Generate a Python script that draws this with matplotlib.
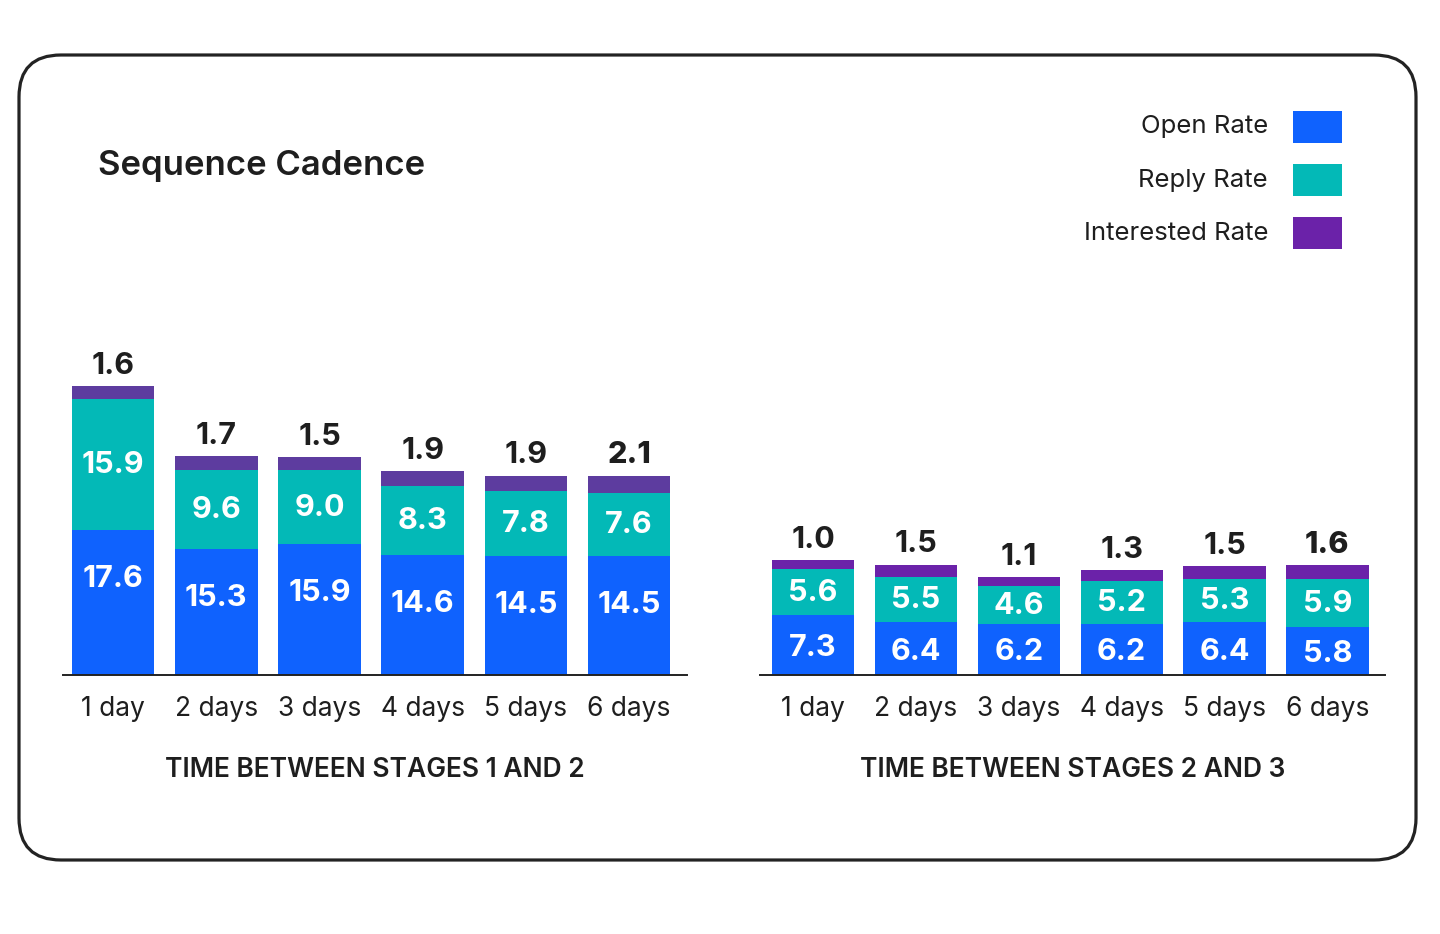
import matplotlib
matplotlib.use("Agg")
import matplotlib.pyplot as plt
from matplotlib.patches import FancyBboxPatch, Rectangle

plt.rcParams['font.family'] = ['Inter', 'DejaVu Sans']

categories = ["1 day", "2 days", "3 days", "4 days", "5 days", "6 days"]

open_12 = [17.6, 15.3, 15.9, 14.6, 14.5, 14.5]
reply_12 = [15.9, 9.6, 9.0, 8.3, 7.8, 7.6]
interested_12 = [1.6, 1.7, 1.5, 1.9, 1.9, 2.1]

open_23 = [7.3, 6.4, 6.2, 6.2, 6.4, 5.8]
reply_23 = [5.6, 5.5, 4.6, 5.2, 5.3, 5.9]
interested_23 = [1.0, 1.5, 1.1, 1.3, 1.5, 1.6]

title = "Sequence Cadence"
group_titles = ["TIME BETWEEN STAGES 1 AND 2", "TIME BETWEEN STAGES 2 AND 3"]
series_names = ["Open Rate", "Reply Rate", "Interested Rate"]

C_OPEN = "#0F62FE"
C_REPLY = "#03B9B7"
C_INT_L = "#5D3C9F"
C_INT_R = "#6B22A9"
DARK = "#1E1E1E"

W, H = 1440, 934
fig = plt.figure(figsize=(W / 100, H / 100), dpi=100)

# rounded frame
box = FancyBboxPatch((0.19, 0.74), 13.97, 8.05,
                     boxstyle="round,pad=0,rounding_size=0.42",
                     transform=fig.dpi_scale_trans, fill=False,
                     edgecolor="#232323", linewidth=2.3)
fig.patches.append(box)

def px(x0, y_top, w, h):
    return [x0 / W, 1 - (y_top + h) / H, w / W, h / H]

YMAX = 40.0
base_y = 675
plot_h = YMAX * 8.24
ax1 = fig.add_axes(px(63, base_y - plot_h, 624, plot_h))
ax2 = fig.add_axes(px(760, base_y - plot_h, 625, plot_h))

def draw(ax, opens, replies, ints, c_int, xlim, gtitle):
    x = list(range(len(categories)))
    bw = 0.8
    ax.bar(x, opens, width=bw, color=C_OPEN, linewidth=0)
    ax.bar(x, replies, width=bw, bottom=opens, color=C_REPLY, linewidth=0)
    bottoms = [o + r for o, r in zip(opens, replies)]
    ax.bar(x, ints, width=bw, bottom=bottoms, color=c_int, linewidth=0)
    for i in x:
        o, r, it = opens[i], replies[i], ints[i]
        yo = max(o / 2, o - 5.6) - 0.35
        ax.text(i, yo, f"{o:.1f}", ha="center", va="center", color="white",
                fontsize=22, fontweight="bold")
        ax.text(i, o + r / 2 - 0.1, f"{r:.1f}", ha="center", va="center", color="white",
                fontsize=22, fontweight="bold")
        ax.annotate(f"{it:.1f}", (i, o + r + it), xytext=(0, 14.5),
                    textcoords="offset points", ha="center", va="center",
                    color=DARK, fontsize=22,
                    fontweight="heavy" if i == len(x) - 1 else "bold",
                    annotation_clip=False)
    ax.set_xlim(*xlim)
    ax.set_ylim(0, YMAX)
    for s in ["top", "right", "left"]:
        ax.spines[s].set_visible(False)
    ax.spines["bottom"].set_color("#222222")
    ax.spines["bottom"].set_linewidth(1.4)
    ax.set_yticks([])
    ax.set_xticks(x)
    ax.set_xticklabels(categories, fontsize=19, color=DARK)
    ax.tick_params(axis="x", length=0, pad=15)
    ax.set_xlabel(gtitle, fontsize=19, fontweight="semibold", color=DARK, labelpad=25)
    ax.patch.set_alpha(0)

draw(ax1, open_12, reply_12, interested_12, C_INT_L, (-0.484, 5.56), group_titles[0])
draw(ax2, open_23, reply_23, interested_23, C_INT_R, (-0.516, 5.56), group_titles[1])

fig.text(98 / W, 1 - 166 / H, title, ha="left", va="center", fontsize=25,
         fontweight="semibold", color=DARK)

# legend
leg_colors = [C_OPEN, C_REPLY, C_INT_R]
leg_y = [127, 180, 233]
for name, col, yy in zip(series_names, leg_colors, leg_y):
    fig.text(1268 / W, 1 - yy / H, name, ha="right", va="center", fontsize=18.5,
             color=DARK)
    fig.patches.append(Rectangle((1293 / W, 1 - (yy + 16) / H), 49 / W, 32 / H,
                                 transform=fig.transFigure, facecolor=col,
                                 edgecolor="none"))

fig.savefig("out.png", dpi=100, facecolor="white")
